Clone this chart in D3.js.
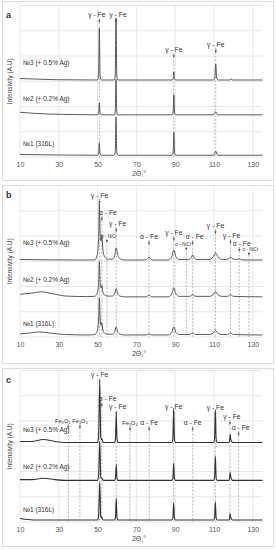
<!DOCTYPE html>
<html>
<head>
<meta charset="utf-8">
<script src="https://cdn.jsdelivr.net/npm/d3@7"></script>
<style>
body{margin:0;background:#fff;}
text{font-family:"Liberation Sans",Arial,sans-serif;}
</style>
</head>
<body>
<script>
// XRD patterns
// points are [2theta, intensity] with intensity in gridline units above the trace baseline
var ticksX = [10,30,50,70,90,110,130];
var samples = ["№3 (+ 0.5% Ag)","№2 (+ 0.2% Ag)","№1 (316L)"];
var panelNames = ["a","b","c"];

// panel a
var a3 = [[10,0.06],[30,0.01],[49.9,0],[50.5,0.16],[50.9,2.06],[51.3,0.16],[51.9,0],
    [58.5,0],[59.1,0.2],[59.5,2.45],[59.9,0.2],[60.5,0],
    [88.3,0],[88.9,0.04],[89.3,0.32],[89.7,0.04],[90.3,0],
    [109.7,0],[110.4,0.08],[110.9,0.63],[111.4,0.08],[112.1,0],
    [118.3,0],[118.8,0.05],[119.3,0],[135,0]];
var a2 = [[10,0.1],[25,0.03],[40,0.01],[49.9,0],[50.5,0.05],[50.9,0.48],[51.3,0.05],[51.9,0],
    [58.5,0],[59.1,0.12],[59.5,1.4],[59.9,0.12],[60.5,0],
    [88.3,0],[88.9,0.07],[89.3,0.8],[89.7,0.07],[90.3,0],
    [109.9,0],[110.9,0.12],[111.9,0],[135,0]];
var a1 = [[10,0.03],[49.9,0],[50.5,0.05],[50.9,0.48],[51.3,0.05],[51.9,0],
    [58.5,0],[59.1,0.13],[59.5,1.5],[59.9,0.13],[60.5,0],
    [88.3,0],[88.9,0.08],[89.3,0.9],[89.7,0.08],[90.3,0],
    [109.9,0],[110.9,0.16],[111.9,0],[135,0]];
var offsetsA = [3.05,1.67,0.07];
var nameLevelsA = [3.73,2.3,0.52];
var peaksA = [["γ - Fe",50.9,5.63,-2.5],["γ - Fe",59.5,5.63,2],["γ - Fe",89.3,4.25,0],["γ - Fe",110.9,4.44,0]];

// panel b
var b3 = [[10,0.02],[40,0],[48.5,0],[49.8,0.2],[50.5,0.8],[50.9,2.26],[51.4,0.9],[51.8,0.75],[52.2,1.0],[52.7,0.45],[53.5,0.15],[55,0.04],
    [57.5,0.03],[58.7,0.15],[59.6,0.48],[60.5,0.15],[62,0.03],[64,0],
    [74.5,0],[75.8,0.05],[76.5,0.12],[77.2,0.05],[78.5,0],
    [86.5,0],[88.2,0.12],[89.3,0.4],[90.4,0.12],[92,0.02],[97,0.02],[98.2,0.08],[99,0.2],[99.8,0.08],[101,0.02],
    [107.5,0.02],[109.5,0.12],[110.8,0.28],[112.1,0.12],[114,0.02],[116.5,0.02],[117.7,0.06],[118.5,0.12],[119.3,0.06],[121,0.02],
    [122.3,0.03],[123,0.05],[123.7,0.03],[125,0],[135,0]];
var b2 = [[10,0.1],[16,0.15],[21,0.2],[27,0.12],[34,0.03],[45,0.01],[48.5,0.02],[49.8,0.15],[50.5,0.5],[50.9,1.4],[51.4,0.5],[51.8,0.35],[52.2,0.45],[52.7,0.2],[53.5,0.08],[55,0.03],
    [57.5,0.03],[58.7,0.1],[59.6,0.32],[60.5,0.1],[62,0.02],[64,0],[75,0],[76.5,0.06],[78,0],
    [86.5,0],[88.2,0.11],[89.3,0.36],[90.4,0.11],[92,0.02],[97.5,0.02],[99,0.08],[100.5,0.02],
    [107.5,0.02],[109.5,0.08],[110.8,0.2],[112.1,0.08],[114,0.02],[117,0.02],[118.5,0.08],[120,0.02],[135,0]];
var b1 = [[10,0.04],[15,0.08],[20,0.12],[26,0.07],[33,0.02],[45,0],[48.5,0.02],[49.8,0.15],[50.5,0.55],[50.9,1.47],[51.4,0.55],[51.8,0.38],[52.2,0.48],[52.7,0.2],[53.5,0.08],[55,0.03],
    [57.5,0.03],[58.7,0.1],[59.6,0.32],[60.5,0.1],[62,0.02],[64,0],[75,0],[76.5,0.04],[78,0],
    [86.5,0],[88.2,0.1],[89.3,0.32],[90.4,0.1],[92,0.02],[97.5,0.02],[99,0.08],[100.5,0.02],
    [107.5,0.02],[109.5,0.07],[110.8,0.18],[112.1,0.07],[114,0.02],[117,0.02],[118.5,0.08],[120,0.02],[135,0]];
var offsetsB = [3.05,1.59,0.08];
var nameLevelsB = [3.73,2.26,0.52];
var peaksB = [["γ - Fe",51.0,5.6,0],["α - Fe",52.2,4.92,6],["σ - NiCr",54.8,3.97,2,1],["γ - Fe",59.6,4.48,1.5],
    ["α - Fe",76.5,3.97,0],["γ - Fe",89.3,4.13,0],["σ - NiCr",95.7,3.65,-3,1],["α - Fe",99.0,3.97,2],
    ["γ - Fe",110.8,4.4,0],["γ - Fe",118.5,4.0,1],["α - Fe",123.0,3.7,2.5],["σ - NiCr",128.0,3.45,1.5,1]];

// panel c
var c3 = [[10,0.04],[16,0.04],[22,0.12],[28,0.04],[33,0],[50,0],[50.5,0.25],[51.1,2.42],[51.6,0.25],[51.9,0.12],[52.2,0.15],[52.6,0.05],[53.2,0],
    [58.8,0],[59.2,0.15],[59.6,1.15],[60,0.15],[60.4,0],[88.3,0],[88.8,0.15],[89.2,1.35],[89.6,0.15],[90.1,0],
    [109.8,0],[110.3,0.15],[110.7,1.3],[111.1,0.15],[111.6,0],[117.6,0],[118,0.05],[118.3,0.32],[118.7,0.1],[119.1,0.05],[119.5,0],[135,0]];
var c2 = [[10,0.03],[16,0.03],[22,0.08],[28,0.03],[33,0],[50,0],[50.5,0.16],[51.1,1.55],[51.6,0.16],[51.9,0.07],[52.2,0.08],[52.6,0.03],[53.2,0],
    [58.8,0],[59.2,0.08],[59.6,0.63],[60,0.08],[60.4,0],[88.3,0],[88.8,0.08],[89.2,0.67],[89.6,0.08],[90.1,0],
    [109.8,0],[110.3,0.12],[110.7,0.95],[111.1,0.12],[111.6,0],[117.6,0],[118,0.05],[118.3,0.32],[118.7,0.1],[119.1,0.04],[119.5,0],[135,0]];
var c1 = [[10,0.06],[14,0.02],[20,0],[50,0],[50.5,0.16],[51.1,1.5],[51.6,0.16],[51.9,0.1],[52.2,0.12],[52.6,0.03],[53.2,0],
    [58.8,0],[59.2,0.1],[59.6,0.87],[60,0.1],[60.4,0],[88.3,0],[88.8,0.08],[89.2,0.67],[89.6,0.08],[90.1,0],
    [109.8,0],[110.3,0.09],[110.7,0.72],[111.1,0.09],[111.6,0],[117.6,0],[118,0.04],[118.3,0.24],[118.7,0.08],[119.1,0.03],[119.5,0],[135,0]];
var offsetsC = [3.15,1.65,0.08];
var nameLevelsC = [3.65,2.18,0.48];
var peaksC = [["Fe₃O₄",34.9,4.02,-5.5,2],["Fe₃O₄",40.9,4.02,0,2],["γ - Fe",51.1,5.83,0],["α - Fe",52.1,4.88,6],
    ["γ - Fe",59.6,4.56,1.5],["Fe₃O₄",66.7,3.93,0,2],["α - Fe",76.6,3.93,0],["γ - Fe",89.2,4.56,0],
    ["α - Fe",99.0,3.93,0],["γ - Fe",110.7,4.52,0],["γ - Fe",118.2,4.17,2],["α - Fe",122.7,3.73,2]];

var panelTops = [1,181,366];
var boxTops = [1,185,368];
var boxBottoms = [180,363,546];

function drawPanel(svg, i, traces, offsets, nameLevels, peaks){
    var T = panelTops[i];
    var x = d3.scaleLinear().domain([10,135]).range([20,262.5]);
    var y = d3.scaleLinear().domain([0,6]).range([T+156, T+4.5]);
    var g = svg.append("g");

    g.append("rect")
        .attr("x",2.5).attr("y",boxTops[i]+0.5)
        .attr("width",271).attr("height",boxBottoms[i]-boxTops[i])
        .attr("fill","none").attr("stroke","#d4d4d4").attr("stroke-width",0.8);

    //grid
    g.selectAll(".vg").data(ticksX).enter().append("line")
        .attr("x1",function(d){ return x(d); }).attr("x2",function(d){ return x(d); })
        .attr("y1",y(0)).attr("y2",y(6))
        .attr("stroke","#e2e2e2").attr("stroke-width",0.8);
    g.selectAll(".hg").data(d3.range(0,7)).enter().append("line")
        .attr("x1",x(10)).attr("x2",x(135))
        .attr("y1",function(d){ return y(d); }).attr("y2",function(d){ return y(d); })
        .attr("stroke","#e2e2e2").attr("stroke-width",0.8);

    var ax = g.append("g")
        .attr("transform","translate(0,"+y(0)+")")
        .call(d3.axisBottom(x).tickValues(ticksX).tickSize(0).tickPadding(5));
    ax.select(".domain").remove();
    ax.selectAll("text").attr("font-size","7px").attr("fill","#555")
        .attr("font-family","'Liberation Sans',Arial,sans-serif");

    //peak markers: dashed guide + small arrow + label
    // p[4]: 1 = tiny sigma label, 2 = oxide label
    peaks.forEach(function(p){
        var px = x(p[1]), ly = y(p[2]);
        var small = p[4] == 1;
        var fs = small ? 4.5 : (p[4] == 2 ? 5.6 : 6.8);
        var tipY = ly + (small ? 5 : 7.5);
        g.append("line")
            .attr("x1",px).attr("x2",px).attr("y1",tipY).attr("y2",y(0))
            .attr("stroke","#9a9a9a").attr("stroke-width",0.7).attr("stroke-dasharray","2,1.5");
        g.append("line")
            .attr("x1",px).attr("x2",px).attr("y1",ly+(small?2:3.5)).attr("y2",tipY)
            .attr("stroke","#444").attr("stroke-width",0.6);
        g.append("path")
            .attr("d","M"+(px-1.2)+","+(tipY-1.8)+"L"+(px+1.2)+","+(tipY-1.8)+"L"+px+","+tipY+"Z")
            .attr("fill","#444");
        g.append("text")
            .attr("x",px+p[3]).attr("y",ly+(small?1.5:2.3))
            .attr("text-anchor","middle")
            .attr("font-family","'Liberation Serif','Times New Roman',serif")
            .attr("font-size",fs+"px")
            .attr("fill","#333")
            .text(p[0]);
    });

    var line = d3.line()
        .x(function(d){ return x(d[0]); })
        .y(function(d){ return d[1]; })
        .curve(d3.curveMonotoneX);

    traces.forEach(function(tr, k){
        var pts = tr.map(function(d){ return [d[0], y(d[1]+offsets[k])]; });
        g.append("path")
            .attr("d",line(pts))
            .attr("fill","none")
            .attr("stroke",i==2 ? "#333" : "#4a4a4a")
            .attr("stroke-width",i==2 ? 1.1 : 0.9)
            .attr("stroke-linejoin","round");
        g.append("text")
            .attr("x",23).attr("y",y(nameLevels[k])+2.5)
            .attr("font-size","6.5px").attr("fill","#333")
            .text(samples[k]);
    });

    g.append("text")
        .attr("transform","translate(12,"+((y(0)+y(6))/2)+") rotate(-90)")
        .attr("text-anchor","middle")
        .attr("font-size","6.5px").attr("fill","#444")
        .text("Intensivity (A.U)");

    g.append("text")
        .attr("x",139).attr("y",T+174.5)
        .attr("text-anchor","middle")
        .attr("font-size","7px").attr("fill","#444")
        .text("2Θ,°");

    g.append("text")
        .attr("x",6).attr("y",T+17)
        .attr("font-size","9px").attr("font-weight","bold").attr("fill","#333")
        .text(panelNames[i]);
}

window.onload = function(){
    var svg = d3.select("body").append("svg")
        .attr("width",276).attr("height",550);
    drawPanel(svg, 0, [a3,a2,a1], offsetsA, nameLevelsA, peaksA);
    drawPanel(svg, 1, [b3,b2,b1], offsetsB, nameLevelsB, peaksB);
    drawPanel(svg, 2, [c3,c2,c1], offsetsC, nameLevelsC, peaksC);
};
</script>
</body>
</html>
